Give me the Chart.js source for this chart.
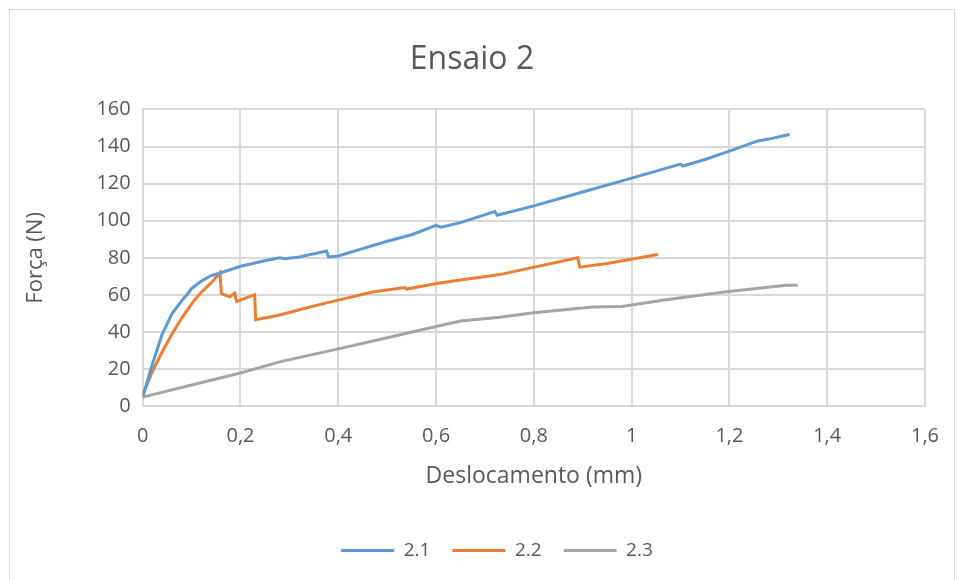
<!DOCTYPE html>
<html>
<head>
<meta charset="utf-8">
<script src="https://cdn.jsdelivr.net/npm/chart.js@4.4.1/dist/chart.umd.min.js"></script>
<style>
  html, body { margin: 0; padding: 0; background: #fff; }
  #wrap { position: absolute; left: 9px; top: 9px; width: 946px; height: 580px; border: 1px solid #d9d9d9; box-sizing: border-box; }
  #box { position: absolute; left: 0; top: 0; width: 957px; height: 580px; }
</style>
</head>
<body>
<div id="wrap"></div>
<div id="box"><canvas id="chart" width="957" height="580"></canvas></div>
<script>
"use strict"

// values
const x21 = [0, 0.02, 0.04, 0.06, 0.08, 0.09, 0.1, 0.12, 0.14, 0.16, 0.2, 0.25, 0.28, 0.29, 0.32, 0.376, 0.38, 0.4, 0.45, 0.5, 0.55, 0.6, 0.61, 0.65, 0.72, 0.725, 0.8, 0.9, 1.0, 1.1, 1.105, 1.15, 1.2, 1.258, 1.28, 1.323]
const y21 = [5, 23, 39, 50, 57, 60, 63.5, 67.5, 70.5, 72, 75.5, 78.5, 80, 79.5, 80.5, 83.7, 80.5, 81, 85, 89, 92.5, 97.5, 96.5, 99, 105, 103, 108, 115.5, 123, 130.5, 129.5, 133, 137.5, 143, 144, 146.5]

const x22 = [0, 0.02, 0.041, 0.06, 0.076, 0.09, 0.105, 0.12, 0.14, 0.158, 0.161, 0.178, 0.188, 0.192, 0.229, 0.231, 0.276, 0.355, 0.396, 0.47, 0.536, 0.54, 0.607, 0.73, 0.89, 0.894, 0.95, 1.054]
const y22 = [6, 19, 30, 39, 46, 51.5, 57, 61.5, 66.5, 72, 60.7, 59, 61, 56.5, 60.2, 46.7, 49, 54.4, 57, 61.6, 64, 63.2, 66.5, 71, 80, 75, 77, 81.8]

const x23 = [0, 0.1, 0.2, 0.28, 0.4, 0.5, 0.6, 0.65, 0.73, 0.8, 0.92, 0.98, 1.07, 1.19, 1.316, 1.34]
const y23 = [5, 11.5, 18, 24, 31, 37, 43, 46, 48, 50.5, 53.5, 53.8, 57.5, 61.6, 65.2, 65.3]

const seriesNames = ["2.1", "2.2", "2.3"]
const seriesColors = ["#5B9BD5", "#ED7D31", "#A5A5A5"]

const toPoints = (xs, ys) => xs.map((v, i) => ({ x: v, y: ys[i] }))
const pts = [toPoints(x21, y21), toPoints(x22, y22), toPoints(x23, y23)]

const txt = "#595959"
const fam = "Open Sans, Liberation Sans, sans-serif"
const comma = (v) => String(Math.round(v * 10) / 10).replace(".", ",")

// legend sits a bit right of centre in the original
const legendShift = {
    id: "legendShift",
    afterLayout: (chart) => {
        chart.legend.left += 25
        chart.legend.right += 25
    }
}

const ctx = document.getElementById("chart").getContext("2d")
new Chart(ctx, {
    type: "scatter",
    plugins: [legendShift],
    data: {
        datasets: pts.map((p, i) => ({
            label: seriesNames[i],
            data: p,
            showLine: true,
            borderColor: seriesColors[i],
            backgroundColor: seriesColors[i],
            borderWidth: 3,
            pointRadius: 0,
            tension: 0
        }))
    },
    options: {
        responsive: false,
        animation: false,
        layout: { padding: { left: 19, right: 32, top: 10, bottom: 10 } },
        scales: {
            x: {
                type: "linear",
                min: 0, max: 1.6,
                ticks: { stepSize: 0.2, color: txt, font: { family: fam, size: 20 }, padding: 18, callback: comma },
                grid: { color: "#d9d9d9", lineWidth: 2, drawTicks: false },
                border: { color: "#d9d9d9", width: 2 },
                title: { display: true, text: "Deslocamento (mm)", color: txt, font: { family: fam, size: 23 }, padding: { top: -4, bottom: 29 } }
            },
            y: {
                min: 0, max: 160,
                ticks: { stepSize: 20, color: txt, font: { family: fam, size: 20 }, padding: 12 },
                grid: { color: "#d9d9d9", lineWidth: 2, drawTicks: false },
                border: { color: "#d9d9d9", width: 2 },
                title: { display: true, text: "Força (N)", color: txt, font: { family: fam, size: 22 }, padding: { bottom: 35 } }
            }
        },
        plugins: {
            title: { display: true, text: "Ensaio 2", color: txt, font: { family: fam, size: 32, weight: "normal" }, padding: { top: 31, bottom: 30 } },
            legend: {
                position: "bottom",
                labels: {
                    color: txt,
                    font: { family: fam, size: 19 },
                    boxWidth: 53, boxHeight: 3, padding: 22,
                    generateLabels: (chart) => chart.data.datasets.map((d, i) => ({
                        text: d.label, fillStyle: d.borderColor, strokeStyle: d.borderColor,
                        lineWidth: 0, fontColor: txt, datasetIndex: i
                    }))
                }
            },
            tooltip: { enabled: false }
        }
    }
})
</script>
</body>
</html>
